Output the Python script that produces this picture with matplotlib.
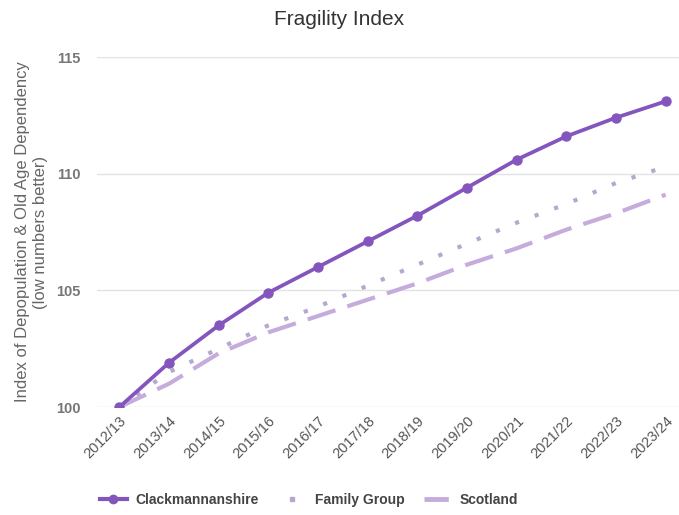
import matplotlib
matplotlib.use("Agg")
import matplotlib.pyplot as plt
from matplotlib.lines import Line2D
import numpy as np

plt.rcParams['font.family'] = ['Liberation Sans', 'DejaVu Sans']

years = ["2012/13", "2013/14", "2014/15", "2015/16", "2016/17", "2017/18",
         "2018/19", "2019/20", "2020/21", "2021/22", "2022/23", "2023/24"]
clacks = [100.0, 101.9, 103.5, 104.9, 106.0, 107.1, 108.2, 109.4, 110.6, 111.6, 112.4, 113.1]
family = [100.0, 101.5, 102.5, 103.5, 104.3, 105.2, 106.1, 107.0, 107.9, 108.7, 109.6, 110.3]
scotland = [100.0, 101.0, 102.3, 103.2, 103.9, 104.6, 105.3, 106.1, 106.8, 107.6, 108.3, 109.1]

c_clacks = "#8456bd"
c_family = "#b5a8cc"
c_scot = "#c5acdc"

x = np.arange(len(years))

fig = plt.figure(figsize=(6.79, 5.15), dpi=100)
ax = fig.add_axes([0.143, 0.2097, 0.857, 0.6796])

ax.plot(x, scotland, color=c_scot, lw=3, dashes=(7, 3), zorder=2)
ax.plot(x, family, color=c_family, lw=3, dashes=(1, 4), dash_capstyle="butt", zorder=2)
ax.plot(x, clacks, color=c_clacks, lw=2.7, marker="o", markersize=6.5, zorder=3)

ax.set_xlim(-0.45, 11.27)
ax.set_ylim(100, 115)
ax.set_yticks([100, 105, 110, 115])
ax.set_xticks(x)
ax.set_xticklabels(years, rotation=45, ha="right", rotation_mode="anchor",
                   fontsize=10.5, color="#555555")
ax.tick_params(axis="y", labelsize=10.5, labelcolor="#777777", length=0, pad=12)
ax.tick_params(axis="x", length=0, pad=5)
for lab in ax.get_yticklabels():
    lab.set_fontweight("bold")

ax.grid(axis="y", color="#e3e3e3", lw=1)
ax.set_axisbelow(True)
for s in ax.spines.values():
    s.set_visible(False)

ax.set_ylabel("Index of Depopulation & Old Age Dependency\n(low numbers better)",
              fontsize=12, color="#666666", labelpad=6)

fig.suptitle("Fragility Index", x=0.5, y=0.98, fontsize=15, color="#333333")

handles = [
    Line2D([], [], color=c_clacks, lw=3, marker="o", markersize=6),
    Line2D([], [], color=c_family, lw=0, marker="s", markersize=3.5),
    Line2D([], [], color=c_scot, lw=3.5, dashes=(5, 10)),
]
labels = ["Clackmannanshire", "Family Group", "Scotland"]
leg = fig.legend(handles, labels, loc="center", bbox_to_anchor=(0.455, 0.03), ncol=3,
                 frameon=False, fontsize=10, handlelength=2.0, handletextpad=0.6,
                 columnspacing=1.4)
for t in leg.get_texts():
    t.set_color("#444444")
    t.set_fontweight("bold")

fig.savefig("out.png", dpi=100)
